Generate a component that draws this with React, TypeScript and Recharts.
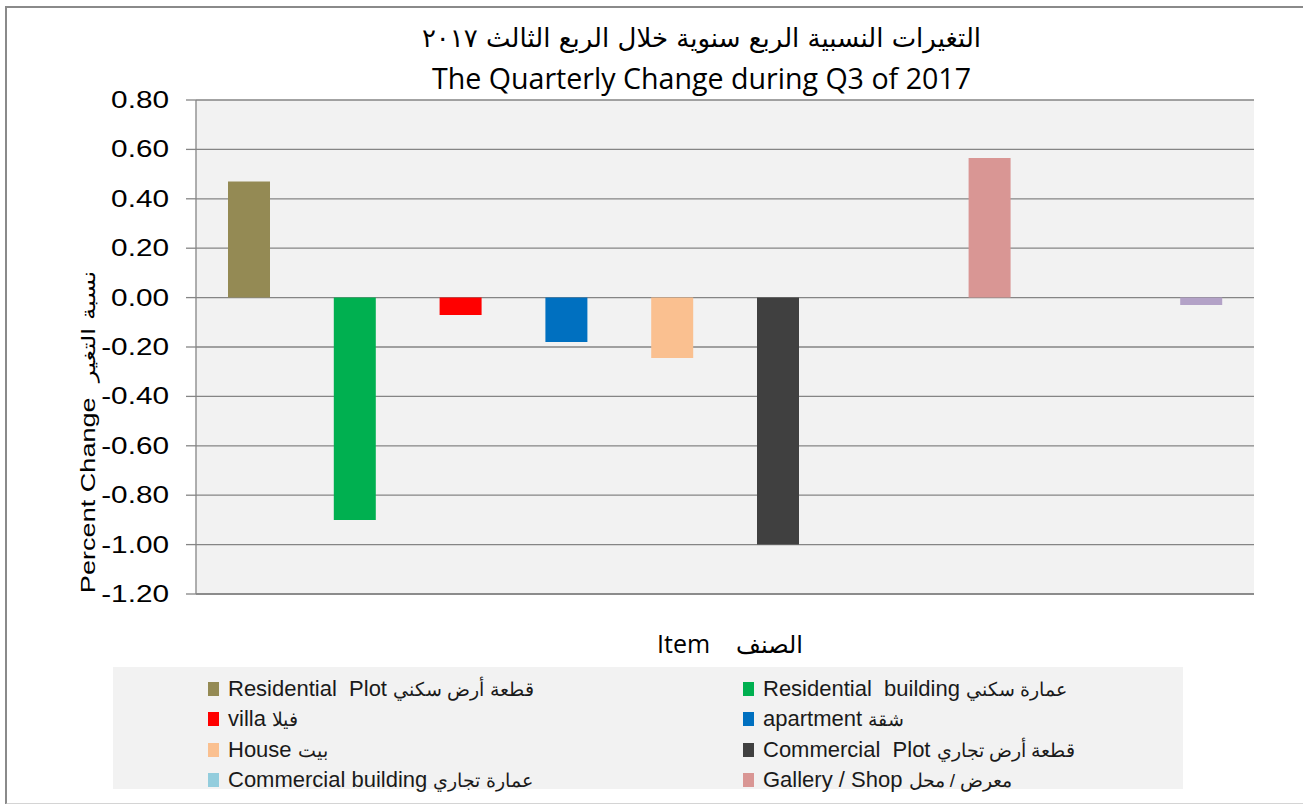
import React from "react";
import { BarChart, Bar, Cell, XAxis, YAxis, CartesianGrid } from "recharts";

// categories in plot order (last two have no legend entry in the source)
const categories = [
  "Residential Plot",
  "Residential building",
  "villa",
  "apartment",
  "House",
  "Commercial Plot",
  "Commercial building",
  "Gallery / Shop",
  "Item 9",
  "Item 10",
];

const arabicNames = [
  "قطعة أرض سكني",
  "عمارة سكني",
  "فيلا",
  "شقة",
  "بيت",
  "قطعة أرض تجاري",
  "عمارة تجاري",
  "معرض / محل",
];

const englishNames = [
  "Residential  Plot",
  "Residential  building",
  "villa",
  "apartment",
  "House",
  "Commercial  Plot",
  "Commercial building",
  "Gallery / Shop",
];

const values = [0.47, -0.9, -0.07, -0.18, -0.245, -1.0, 0, 0.565, null, -0.03];

const colors = [
  "#948A54",
  "#00B050",
  "#FF0000",
  "#0070C0",
  "#FAC090",
  "#404040",
  "#93CDDD",
  "#D99694",
  "#F79646",
  "#B3A2C7",
];

const yTicks = [0.8, 0.6, 0.4, 0.2, 0, -0.2, -0.4, -0.6, -0.8, -1.0, -1.2];

const titleAr = "التغيرات النسبية الربع سنوية خلال الربع الثالث ٢٠١٧";
const titleEn = "The Quarterly Change during Q3 of 2017";

const data = categories.map((name, i) => ({ name, value: values[i] }));

function YTick(props: any) {
  const { x, y, payload } = props;
  return (
    <text
      transform={`translate(${x},${y}) scale(1.24,1)`}
      textAnchor="end"
      dominantBaseline="central"
      fontFamily="'Liberation Sans', Arial, sans-serif"
      fontSize={24}
      fill="#000"
    >
      {Number(payload.value).toFixed(2)}
    </text>
  );
}

function LegendBox() {
  return (
    <div
      style={{
        position: "absolute",
        left: 113,
        top: 667,
        width: 1070,
        height: 122,
        background: "#F2F2F2",
      }}
    >
      {englishNames.map((en, i) => {
        const col = i % 2;
        const row = Math.floor(i / 2);
        return (
          <div
            key={en}
            style={{
              position: "absolute",
              left: col === 0 ? 95 : 630,
              top: 7 + row * 30.3,
              height: 30,
              display: "flex",
              alignItems: "center",
              whiteSpace: "nowrap",
              fontFamily: "'Liberation Sans', Arial, sans-serif",
              fontSize: 22,
              color: "#1a1a1a",
            }}
          >
            <span
              style={{
                display: "inline-block",
                width: 11,
                height: 14,
                background: colors[i],
                marginRight: 9,
              }}
            />
            <span style={{ whiteSpace: "pre" }}>
              {en + " "}
              <span style={{ fontSize: 19 }}>{arabicNames[i]}</span>
            </span>
          </div>
        );
      })}
    </div>
  );
}

export default function App() {
  return (
    <div
      style={{
        position: "fixed",
        left: 0,
        top: 0,
        width: 1303,
        height: 804,
        background: "#fff",
        overflow: "hidden",
      }}
    >
      <div
        style={{
          position: "absolute",
          left: 5,
          top: 6,
          width: 1400,
          height: 795,
          borderLeft: "2px solid #8a8a8a",
          borderTop: "2px solid #8a8a8a",
          borderBottom: "2px solid #d4d4d4",
        }}
      />
      <div
        style={{
          position: "absolute",
          left: 0,
          width: 1303,
          top: 18,
          textAlign: "center",
          fontFamily: "'DejaVu Sans', sans-serif",
          fontSize: 26,
          lineHeight: "40px",
          color: "#000",
          paddingLeft: 100,
          boxSizing: "border-box",
        }}
        dir="rtl"
      >
        {titleAr}
      </div>
      <div
        style={{
          position: "absolute",
          left: 0,
          width: 1303,
          top: 58,
          textAlign: "center",
          fontFamily: "'Open Sans', sans-serif",
          fontSize: 28.6,
          lineHeight: "40px",
          color: "#000",
          paddingLeft: 100,
          boxSizing: "border-box",
        }}
      >
        {titleEn}
      </div>
      <BarChart
        width={1303}
        height={804}
        data={data}
        margin={{ top: 100, right: 49, bottom: 180, left: 86 }}
        style={{ position: "absolute", left: 0, top: 0 }}
      >
        <CartesianGrid
          vertical={false}
          fill="#F2F2F2"
          stroke="#858585"
          strokeWidth={1.3}
        />
        <XAxis
          dataKey="name"
          tick={false}
          tickLine={false}
          height={30}
          axisLine={{ stroke: "#858585", strokeWidth: 1.5 }}
        />
        <YAxis
          width={110}
          domain={[-1.2, 0.8]}
          ticks={yTicks}
          interval={0}
          tickSize={10}
          tickMargin={17}
          tick={<YTick />}
          tickLine={{ stroke: "#858585", strokeWidth: 1.3 }}
          axisLine={{ stroke: "#858585", strokeWidth: 1.3 }}
        />
        <Bar dataKey="value" barSize={42} isAnimationActive={false}>
          {data.map((d, i) => (
            <Cell key={d.name} fill={colors[i]} />
          ))}
        </Bar>
      </BarChart>
      <div
        style={{
          position: "absolute",
          left: 88,
          top: 432,
          transform: "translate(-50%, -50%) rotate(-90deg) scaleX(1.29)",
          whiteSpace: "pre",
          fontFamily: "'Liberation Sans', Arial, sans-serif",
          fontSize: 21,
          color: "#000",
        }}
      >
        {"Percent Change  "}
        <span style={{ fontFamily: "'DejaVu Sans', sans-serif", fontSize: 19 }}>نسبة التغير</span>
      </div>
      <div
        style={{
          position: "absolute",
          left: 657,
          top: 625,
          whiteSpace: "pre",
          fontFamily: "'Open Sans', sans-serif",
          fontSize: 25,
          lineHeight: "36px",
          color: "#000",
        }}
      >
        {"Item    "}
        <span style={{ fontFamily: "'DejaVu Sans', sans-serif", fontSize: 24 }}>الصنف</span>
      </div>
      <LegendBox />
    </div>
  );
}
